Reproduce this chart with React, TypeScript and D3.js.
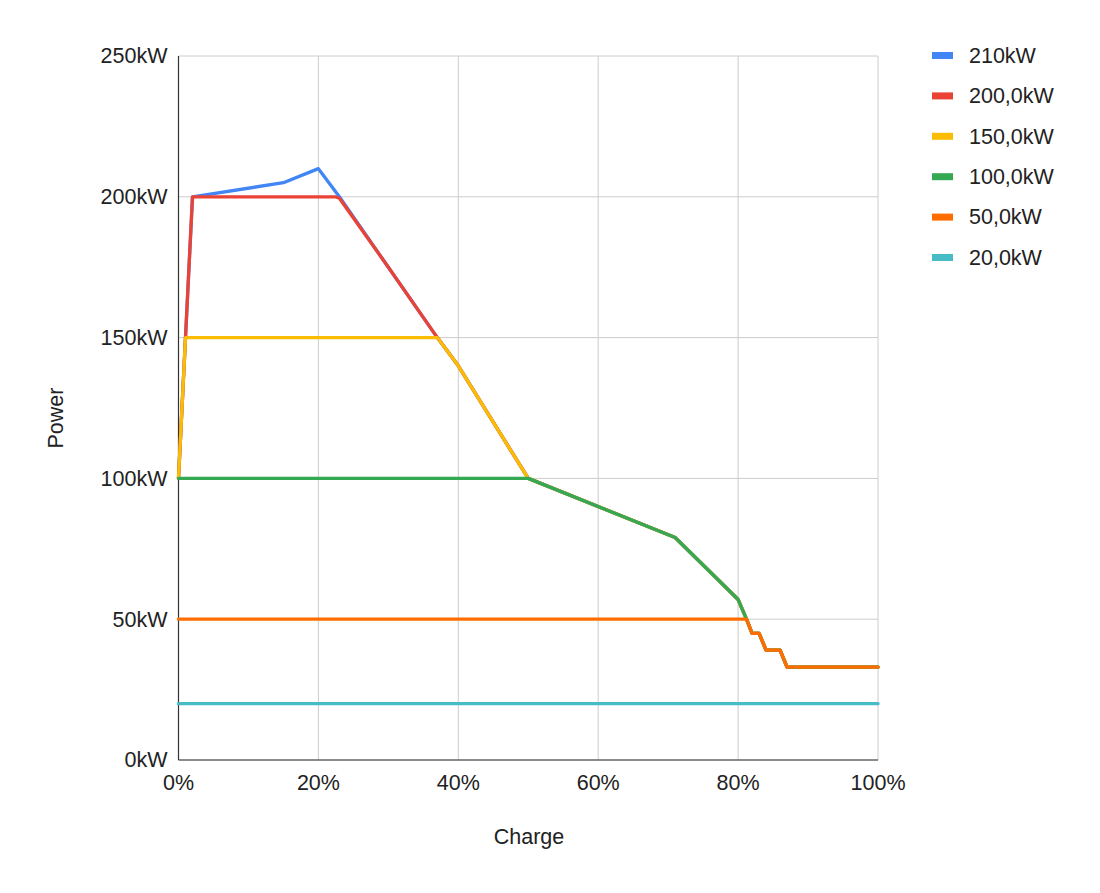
import * as d3 from 'd3'

// charging curves: [charge %, power kW]
const curve210: [number, number][] = [
  [0, 100], [2, 200], [15, 205], [20, 210], [23, 200], [30, 175], [37, 150], [40, 140], [50, 100],
  [71, 79], [80, 57], [81.2, 50], [82, 45], [83, 45], [84, 39], [86, 39], [87, 33], [100, 33]
]
const curve200: [number, number][] = [
  [0, 100], [2, 200], [22.4, 200], [23, 199.5], [30, 175], [37, 150], [40, 140], [50, 100],
  [71, 79], [80, 57], [81.2, 50], [82, 45], [83, 45], [84, 39], [86, 39], [87, 33], [100, 33]
]
const curve150: [number, number][] = [
  [0, 100], [1, 150], [37, 150], [40, 140], [50, 100],
  [71, 79], [80, 57], [81.2, 50], [82, 45], [83, 45], [84, 39], [86, 39], [87, 33], [100, 33]
]
const curve100: [number, number][] = [
  [0, 100], [50, 100], [71, 79], [80, 57], [81.2, 50], [82, 45], [83, 45], [84, 39], [86, 39], [87, 33], [100, 33]
]
const curve50: [number, number][] = [
  [0, 50], [81.2, 50], [82, 45], [83, 45], [84, 39], [86, 39], [87, 33], [100, 33]
]
const curve20: [number, number][] = [[0, 20], [100, 20]]

const seriesNames = ['210kW', '200,0kW', '150,0kW', '100,0kW', '50,0kW', '20,0kW']
const seriesColors = ['#4285f4', '#ea4335', '#fbbc04', '#34a853', '#ff6d01', '#46bdc6']
const seriesData = [curve210, curve200, curve150, curve100, curve50, curve20]

const xTicks = [0, 20, 40, 60, 80, 100]
const yTicks = [0, 50, 100, 150, 200, 250]

const W = 1100
const H = 893
const margin = { top: 56, right: 222, bottom: 133, left: 178.5 }
const font = '"Liberation Sans", Arial, sans-serif'
const fs = 21.5

export default function App() {
  const x = d3.scaleLinear().domain([0, 100]).range([margin.left, W - margin.right])
  const y = d3.scaleLinear().domain([0, 250]).range([H - margin.bottom, margin.top])

  const line = d3.line<[number, number]>()
    .x(d => x(d[0]))
    .y(d => y(d[1]))

  const legendX = 932
  const legendY = 55.5
  const legendStep = 40.4

  return (
    <div style={{ position: 'absolute', left: 0, top: 0 }}>
      <svg width={W} height={H} style={{ display: 'block', background: '#fff' }}>
        {/* grid */}
        {yTicks.map(t => (
          <line key={'gy' + t} x1={x(0)} x2={x(100)} y1={y(t)} y2={y(t)} stroke="#cccccc" strokeWidth={1} />
        ))}
        {xTicks.map(t => (
          <line key={'gx' + t} x1={x(t)} x2={x(t)} y1={y(0)} y2={y(250)} stroke="#cccccc" strokeWidth={1} />
        ))}

        {/* axes */}
        <line x1={x(0)} x2={x(0)} y1={y(0)} y2={y(250)} stroke="#333" strokeWidth={1.2} />
        <line x1={x(0)} x2={x(100)} y1={y(0)} y2={y(0)} stroke="#333" strokeWidth={1.2} />

        {/* tick labels */}
        {yTicks.map(t => (
          <text key={'ly' + t} x={x(0) - 11} y={y(t) + 7.3} textAnchor="end" fontFamily={font} fontSize={fs} fill="#222">
            {t}kW
          </text>
        ))}
        {xTicks.map(t => (
          <text key={'lx' + t} x={x(t)} y={y(0) + 29.5} textAnchor="middle" fontFamily={font} fontSize={fs} fill="#222">
            {t}%
          </text>
        ))}

        {/* axis titles */}
        <text x={529} y={844} textAnchor="middle" fontFamily={font} fontSize={fs} fill="#222">Charge</text>
        <text transform="translate(63,418) rotate(-90)" textAnchor="middle" fontFamily={font} fontSize={fs} fill="#222">Power</text>

        {/* series */}
        {seriesData.map((d, i) => (
          <path key={'s' + i} d={line(d) || ''} fill="none" stroke={seriesColors[i]} strokeWidth={3.3}
            strokeLinejoin="round" strokeLinecap="round" />
        ))}

        {/* legend */}
        {seriesNames.map((name, i) => (
          <g key={'lg' + i} transform={`translate(${legendX},${legendY + i * legendStep})`}>
            <rect x={0} y={-3.5} width={21} height={7} fill={seriesColors[i]} />
            <text x={37} y={7.3} fontFamily={font} fontSize={fs} fill="#222">{name}</text>
          </g>
        ))}
      </svg>
    </div>
  )
}
